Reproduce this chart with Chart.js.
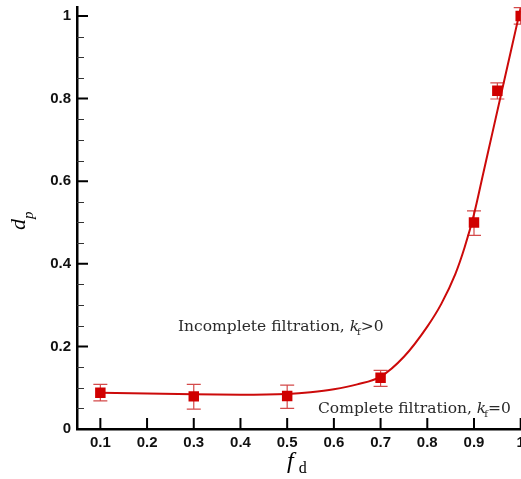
<!DOCTYPE html>
<html>
<head>
<meta charset="utf-8">
<script src="https://cdn.jsdelivr.net/npm/chart.js@4"></script>
<style>
html,body{margin:0;padding:0;background:#fff;}
#wrap{width:521px;height:479px;}
</style>
</head>
<body>
<div id="wrap"><canvas id="c" width="521" height="479"></canvas></div>
<script>
// ---- data ----
const fd = [0.1, 0.3, 0.5, 0.7, 0.9, 0.95, 1.0];
const dp = [0.088, 0.079, 0.080, 0.124, 0.500, 0.819, 1.0];
const dpLow = [0.068, 0.048, 0.050, 0.103, 0.469, 0.799, 0.980];
const dpHigh = [0.108, 0.108, 0.106, 0.142, 0.528, 0.838, 1.020];

const fitX = [0.1, 0.2, 0.3, 0.4, 0.5, 0.55, 0.6, 0.65, 0.7, 0.75, 0.8, 0.83, 0.86, 0.88, 0.9, 0.92, 0.94, 0.96, 0.98, 1.0];
const fitY = [0.088, 0.086, 0.084, 0.083, 0.085, 0.089, 0.096, 0.108, 0.127, 0.175, 0.248, 0.303, 0.375, 0.44, 0.52, 0.62, 0.72, 0.82, 0.92, 1.02];

const xTickValues = [0.1, 0.2, 0.3, 0.4, 0.5, 0.6, 0.7, 0.8, 0.9, 1.0];
const xTickLabels = ['0.1', '0.2', '0.3', '0.4', '0.5', '0.6', '0.7', '0.8', '0.9', '1'];
const yTickValues = [0, 0.2, 0.4, 0.6, 0.8, 1.0];
const yTickLabels = ['0', '0.2', '0.4', '0.6', '0.8', '1'];
const yMinorValues = [0.05, 0.1, 0.15, 0.25, 0.3, 0.35, 0.45, 0.5, 0.55, 0.65, 0.7, 0.75, 0.85, 0.9, 0.95];

const RED = '#d00000';

// tick marks drawn inside the plot, positioned by the library's scales
const innerTicks = {
  id: 'innerTicks',
  afterDraw(chart) {
    const {ctx, scales: {x, y}, chartArea: a} = chart;
    ctx.save();
    ctx.strokeStyle = '#000';
    ctx.lineWidth = 2;
    ctx.beginPath();
    xTickValues.forEach(v => {
      const px = x.getPixelForValue(v);
      ctx.moveTo(px, a.bottom); ctx.lineTo(px, a.bottom - 11);
    });
    yTickValues.forEach(v => {
      if (v === 0) return;
      const py = y.getPixelForValue(v);
      ctx.moveTo(a.left, py); ctx.lineTo(a.left + 11, py);
    });
    ctx.stroke();
    ctx.lineWidth = 1;
    ctx.strokeStyle = '#333';
    ctx.beginPath();
    yMinorValues.forEach(v => {
      const py = Math.round(y.getPixelForValue(v)) + 0.5;
      ctx.moveTo(a.left, py); ctx.lineTo(a.left + 7, py);
    });
    ctx.stroke();
    ctx.restore();
  }
};

// error bars
const errorBars = {
  id: 'errorBars',
  beforeDatasetsDraw(chart) {
    const {ctx, scales: {x, y}} = chart;
    ctx.save();
    ctx.strokeStyle = '#d44a4a';
    ctx.lineWidth = 1.2;
    ctx.beginPath();
    fd.forEach((v, i) => {
      const px = x.getPixelForValue(v);
      const y1 = y.getPixelForValue(dpLow[i]);
      const y2 = y.getPixelForValue(dpHigh[i]);
      ctx.moveTo(px, y1); ctx.lineTo(px, y2);
      ctx.moveTo(px - 7, y1); ctx.lineTo(px + 7, y1);
      ctx.moveTo(px - 7, y2); ctx.lineTo(px + 7, y2);
    });
    ctx.stroke();
    ctx.restore();
  }
};

function drawRich(ctx, x, y, parts) {
  let cx = x;
  parts.forEach(p => {
    ctx.font = p.font;
    ctx.fillText(p.t, cx + (p.dx || 0), y + (p.dy || 0));
    cx += ctx.measureText(p.t).width + (p.dx || 0) + (p.adv || 0);
  });
}

const labels = {
  id: 'labels',
  afterDraw(chart) {
    const {ctx} = chart;
    ctx.save();
    ctx.fillStyle = '#2a2a2a';
    ctx.textBaseline = 'alphabetic';
    ctx.textAlign = 'left';
    const serif = '"DejaVu Serif"';
    drawRich(ctx, 178, 331, [
      {t: 'Incomplete filtration, ', font: '15.5px ' + serif},
      {t: 'k', font: 'italic 15.5px ' + serif, adv: -2},
      {t: 'f', font: '10px ' + serif, dy: 4},
      {t: '>0', font: '15.5px ' + serif}
    ]);
    drawRich(ctx, 318, 413, [
      {t: 'Complete filtration, ', font: '15.5px ' + serif},
      {t: 'k', font: 'italic 15.5px ' + serif, adv: -2},
      {t: 'f', font: '10px ' + serif, dy: 4},
      {t: '=0', font: '15.5px ' + serif}
    ]);
    // axis titles
    ctx.fillStyle = '#000';
    drawRich(ctx, 287, 468, [
      {t: 'f', font: 'italic 24px "Liberation Serif"', adv: 5},
      {t: 'd', font: '16px "Liberation Serif"', dy: 5}
    ]);
    ctx.translate(25, 230);
    ctx.rotate(-Math.PI / 2);
    drawRich(ctx, 0, 0, [
      {t: 'd', font: 'italic 22px "Liberation Serif"', adv: 0},
      {t: 'p', font: 'italic 15px "Liberation Serif"', dy: 8}
    ]);
    ctx.restore();
  }
};

new Chart(document.getElementById('c'), {
  type: 'scatter',
  data: {
    datasets: [
      {
        label: 'data',
        data: fd.map((v, i) => ({x: v, y: dp[i]})),
        pointStyle: 'rect',
        pointRadius: 7.4,
        pointBackgroundColor: RED,
        pointBorderWidth: 0,
        showLine: false,
        order: 0
      },
      {
        label: 'fit',
        type: 'line',
        data: fitX.map((v, i) => ({x: v, y: fitY[i]})),
        borderColor: '#cc0a0a',
        borderWidth: 2,
        pointRadius: 0,
        fill: false,
        cubicInterpolationMode: 'monotone',
        order: 1
      }
    ]
  },
  options: {
    responsive: false,
    animation: false,
    devicePixelRatio: 1,
    layout: {autoPadding: false, padding: {top: 7.7, right: 0.3, left: 0, bottom: 0}},
    plugins: {legend: {display: false}, tooltip: {enabled: false}},
    scales: {
      x: {
        type: 'linear',
        min: 0.05, max: 1.0,
        grid: {display: false, drawTicks: false},
        border: {display: true, color: '#000', width: 2.5},
        afterBuildTicks: s => { s.ticks = xTickValues.map(v => ({value: v})); },
        afterFit: s => { s.height = 50; s.paddingLeft = 0; s.paddingRight = 0; },
        ticks: {
          autoSkip: false, maxRotation: 0,
          padding: 5,
          color: '#111',
          font: {family: '"Liberation Sans", Arial', size: 15, weight: 'bold'},
          callback: (v) => { const i = xTickValues.findIndex(t => Math.abs(t - v) < 1e-9); return i >= 0 ? xTickLabels[i] : ''; }
        }
      },
      y: {
        type: 'linear',
        min: 0, max: 1.02,
        grid: {display: false, drawTicks: false},
        border: {display: true, color: '#000', width: 2.5},
        afterBuildTicks: s => { s.ticks = yTickValues.map(v => ({value: v})); },
        afterFit: s => { s.width = 77; s.paddingTop = 0; s.paddingBottom = 0; },
        ticks: {
          autoSkip: false,
          padding: 6,
          color: '#111',
          font: {family: '"Liberation Sans", Arial', size: 15, weight: 'bold'},
          callback: (v) => { const i = yTickValues.findIndex(t => Math.abs(t - v) < 1e-9); return i >= 0 ? yTickLabels[i] : ''; }
        }
      }
    }
  },
  plugins: [errorBars, innerTicks, labels]
});
</script>
</body>
</html>
